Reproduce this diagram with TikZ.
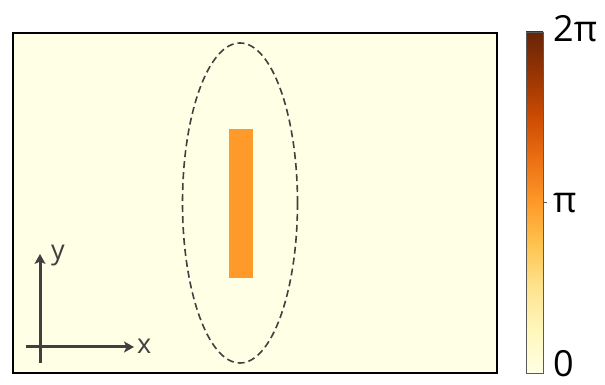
\documentclass[tikz,border=0pt]{standalone}
\usepackage{fontspec}
\setmainfont{Open Sans}
\usetikzlibrary{arrows.meta}
\definecolor{bgyellow}{HTML}{FFFFE5}
\definecolor{barorange}{HTML}{FD9A2A}
\definecolor{axisgray}{HTML}{404040}
\definecolor{cA}{HTML}{FFFFE5}
\definecolor{cB}{HTML}{FFF7BC}
\definecolor{cC}{HTML}{FEE391}
\definecolor{cD}{HTML}{FEC44F}
\definecolor{cE}{HTML}{FE9929}
\definecolor{cF}{HTML}{EC7014}
\definecolor{cG}{HTML}{CC4C02}
\definecolor{cH}{HTML}{993404}
\definecolor{cI}{HTML}{662506}
\pgfdeclareverticalshading{ylorbr}{100bp}{color(0bp)=(cA); color(25bp)=(cA);
  color(31.25bp)=(cB); color(37.5bp)=(cC); color(43.75bp)=(cD); color(50bp)=(cE);
  color(56.25bp)=(cF); color(62.5bp)=(cG); color(68.75bp)=(cH); color(75bp)=(cI);
  color(100bp)=(cI)}
\tikzset{
  axisarrow/.style={draw=axisgray, line width=3pt, -{Stealth[length=10pt,width=11pt,inset=2.5pt]}},
  axislabel/.style={text=axisgray, font=\fontsize{27}{29}\selectfont, inner sep=0pt},
  barlabel/.style={anchor=west, font=\fontsize{36}{38}\selectfont, inner sep=0pt}
}
\begin{document}
\begin{tikzpicture}[x=1pt,y=1pt]
\useasboundingbox (0,0) rectangle (605,385);
% sample region
\draw[fill=bgyellow, line width=2.8pt] (13,12) rectangle (497,352);
\draw[dash pattern=on 7pt off 4pt, draw=axisgray, line width=1.6pt] (240,182) ellipse (57.5 and 160);
\fill[barorange] (229,107) rectangle (253,256);
% coordinate axes
\coordinate (xstart) at (26,38);
\coordinate (xend) at (134,38);
\coordinate (ystart) at (40,22);
\coordinate (yend) at (40,131);
\draw[axisarrow] (xstart) -- (xend);
\draw[axisarrow] (ystart) -- (yend);
\node[axislabel, anchor=base west] (xlab) at (137,31) {x};
\node[axislabel, anchor=base west] (ylab) at (51,125) {y};
% colour bar
\shade[shading=ylorbr, draw=gray!70!black, line width=0.8pt] (526,12) rectangle (543,353);
\draw[gray!70!black, line width=0.8pt] (543,182.5) -- (547,182.5);
\node[barlabel, anchor=base west] (zero) at (553,8) {0};
\node[barlabel, anchor=base west] (pi) at (553,172) {π};
\node[barlabel, anchor=base west] (twopi) at (553,343) {2π};
\end{tikzpicture}
\end{document}
